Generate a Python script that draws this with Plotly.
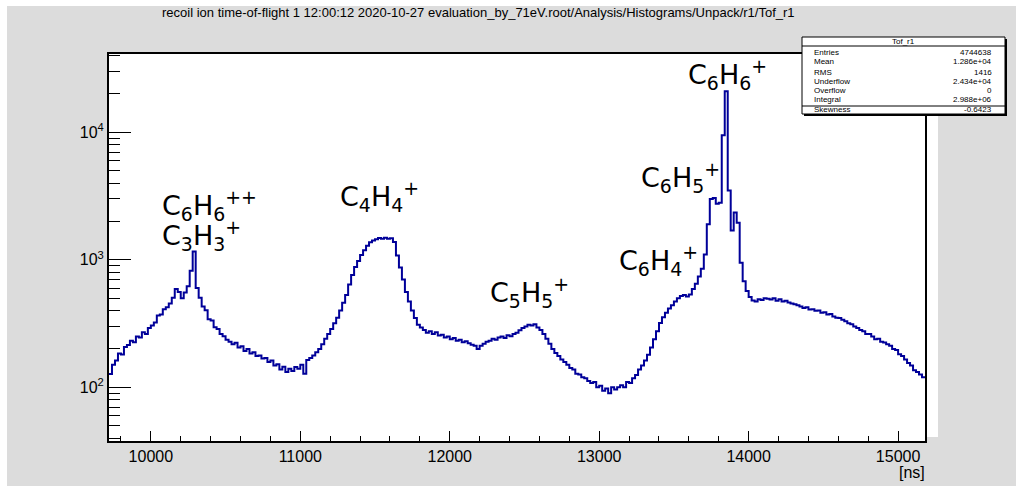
import numpy as np
import plotly.graph_objects as go

# Tof_r1 histogram: 20 ns bins starting at 9720 ns
bin_start = 9720
bin_width = 20
counts = [
    127, 150, 162, 184, 181, 207, 215, 232, 226, 250,
    246, 270, 262, 292, 305, 322, 366, 372, 410, 425,
    455, 505, 590, 560, 500, 555, 620, 820, 1160, 600,
    505, 430, 402, 342, 334, 296, 287, 262, 252, 236,
    228, 218, 224, 205, 210, 193, 200, 184, 188, 176,
    178, 168, 170, 158, 162, 148, 152, 138, 145, 132,
    140, 134, 144, 140, 150, 128, 164, 170, 178, 188,
    200, 218, 240, 262, 286, 318, 352, 400, 460, 530,
    640, 760, 880, 980, 1090, 1190, 1290, 1370, 1420, 1450,
    1480, 1465, 1490, 1460, 1475, 1380, 1080, 870, 700, 560,
    470, 400, 350, 310, 295, 282, 268, 275, 262, 270,
    255, 258, 246, 250, 238, 244, 232, 236, 226, 230,
    222, 216, 212, 200, 212, 220, 228, 232, 240, 236,
    246, 250, 244, 256, 252, 262, 268, 280, 292, 300,
    310, 305, 312, 295, 282, 262, 240, 220, 200, 186,
    176, 165, 158, 150, 142, 138, 128, 126, 120, 118,
    112, 108, 110, 100, 103, 94, 98, 90, 100, 96,
    100, 104, 100, 110, 108, 118, 125, 138, 148, 162,
    180, 205, 238, 275, 320, 355, 385, 415, 440, 470,
    500, 520, 530, 515, 535, 590, 650, 740, 850, 1100,
    1900, 3000, 3050, 2750, 2800, 9500, 21000, 3500, 1700, 2350,
    1950, 950, 680, 570, 510, 480, 470, 490, 485, 500,
    495, 488, 500, 478, 490, 470, 478, 462, 455, 448,
    440, 430, 418, 425, 408, 410, 398, 400, 385, 388,
    372, 375, 360, 352, 350, 338, 330, 318, 312, 300,
    292, 282, 275, 262, 262, 250, 238, 240, 228, 225,
    218, 212, 200, 196, 182, 176, 165, 155, 148, 136,
    132, 126, 120,
]

title_text = ("recoil ion time-of-flight 1 12:00:12 2020-10-27 "
              "evaluation_by_71eV.root/Analysis/Histograms/Unpack/r1/Tof_r1")

stats_name = "Tof_r1"
stats_labels = ["Entries", "Mean", "RMS", "Underflow", "Overflow", "Integral", "Skewness"]
stats_values = ["4744638", "1.286e+04", "1416", "2.434e+04", "0", "2.988e+06", "-0.6423"]

# peak labels: (text, x [ns], log10 y)
peak_labels = [
    ("C<sub>6</sub>H<sub>6</sub><sup>++</sup>", 10062, 3.422),
    ("C<sub>3</sub>H<sub>3</sub><sup>+</sup>", 10062, 3.187),
    ("C<sub>4</sub>H<sub>4</sub><sup>+</sup>", 11250, 3.493),
    ("C<sub>5</sub>H<sub>5</sub><sup>+</sup>", 12255, 2.740),
    ("C<sub>6</sub>H<sub>4</sub><sup>+</sup>", 13118, 2.998),
    ("C<sub>6</sub>H<sub>5</sub><sup>+</sup>", 13264, 3.642),
    ("C<sub>6</sub>H<sub>6</sub><sup>+</sup>", 13578, 4.457),
]

# step outline through bin edges
counts_arr = np.array(counts, dtype=float)
edges = bin_start + bin_width * np.arange(len(counts_arr) + 1)
step_y = np.append(counts_arr, counts_arr[-1])

W, H = 1016, 486
L, R, T, B = 109, 925, 54, 441


def px(x):
    return (x - L) / (R - L)


def py(y):
    return (B - y) / (B - T)


fig = go.Figure()
fig.add_trace(go.Scatter(
    x=edges, y=step_y, mode="lines", line_shape="hv",
    line=dict(color="#000099", width=2), hoverinfo="skip", showlegend=False,
))

axis_font = dict(family="Liberation Sans, Arial, sans-serif", size=16, color="black")

minor_y = [m * 10 ** e for e in range(1, 5) for m in range(2, 10) if 38 <= m * 10 ** e <= 41000]

fig.update_xaxes(
    range=[edges[0], edges[-1]], showgrid=False, zeroline=False,
    showline=True, linecolor="black", linewidth=2, mirror=True,
    ticks="inside", ticklen=10, tickwidth=1, tickcolor="black",
    dtick=1000, tickformat="d", tickfont=axis_font,
    minor=dict(ticks="inside", ticklen=5, tickwidth=1, tickcolor="black", dtick=200),
)
fig.update_yaxes(
    type="log", range=[1.579, 4.614], showgrid=False, zeroline=False,
    showline=True, linecolor="black", linewidth=2, mirror=True,
    ticks="inside", ticklen=22, tickwidth=1, tickcolor="black",
    tickvals=[100, 1000, 10000],
    ticktext=["10<sup>2</sup>", "10<sup>3</sup>", "10<sup>4</sup>"],
    tickfont=axis_font,
    minor=dict(ticks="inside", ticklen=11, tickwidth=1, tickcolor="black", tickvals=minor_y),
)

shapes = [
    # white canvas border strips
    dict(type="rect", xref="paper", yref="paper", x0=px(0), x1=px(W), y0=py(0), y1=py(6),
         fillcolor="white", line_width=0, layer="below"),
    dict(type="rect", xref="paper", yref="paper", x0=px(0), x1=px(7), y0=py(0), y1=py(H),
         fillcolor="white", line_width=0, layer="below"),
    dict(type="rect", xref="paper", yref="paper", x0=px(926), x1=px(938), y0=py(54), y1=py(437),
         fillcolor="white", line_width=0, layer="below"),
    # stats box with shadow
    dict(type="rect", xref="paper", yref="paper", x0=px(804), x1=px(1007), y0=py(39), y1=py(116),
         fillcolor="black", line_width=0, layer="above"),
    dict(type="rect", xref="paper", yref="paper", x0=px(802), x1=px(1005), y0=py(37), y1=py(114),
         fillcolor="white", line=dict(color="black", width=1), layer="above"),
    dict(type="line", xref="paper", yref="paper", x0=px(802), x1=px(1005), y0=py(46), y1=py(46),
         line=dict(color="black", width=1), layer="above"),
    dict(type="line", xref="paper", yref="paper", x0=px(802), x1=px(1005), y0=py(106), y1=py(106),
         line=dict(color="black", width=1), layer="above"),
]

annotations = [
    dict(text=title_text, xref="paper", yref="paper", x=px(478), y=py(12),
         xanchor="center", yanchor="middle", showarrow=False,
         font=dict(family="Liberation Sans, Arial, sans-serif", size=13, color="black")),
    dict(text="[ns]", xref="paper", yref="paper", x=px(927), y=py(472),
         xanchor="right", yanchor="middle", showarrow=False, font=axis_font),
    dict(text=stats_name, xref="paper", yref="paper", x=px(903), y=py(41.5),
         xanchor="center", yanchor="middle", showarrow=False,
         font=dict(family="Liberation Sans, Arial, sans-serif", size=8, color="black")),
]

stats_rows_y = [52.3, 62, 72.3, 81, 90.3, 99.7, 110]
stats_font = dict(family="Liberation Sans, Arial, sans-serif", size=8, color="black")
for lab, val, yy in zip(stats_labels, stats_values, stats_rows_y):
    annotations.append(dict(text=lab, xref="paper", yref="paper", x=px(812), y=py(yy),
                            xanchor="left", yanchor="middle", showarrow=False, font=stats_font))
    annotations.append(dict(text=val, xref="paper", yref="paper", x=px(994), y=py(yy),
                            xanchor="right", yanchor="middle", showarrow=False, font=stats_font))

label_font = dict(family="DejaVu Sans, sans-serif", size=27, color="black")
for txt, xv, ylog in peak_labels:
    annotations.append(dict(text=txt, x=xv, y=ylog, xref="x", yref="y",
                            xanchor="left", yanchor="middle", showarrow=False, font=label_font))

fig.update_layout(
    width=W, height=H, autosize=False,
    margin=dict(l=L, r=W - R, t=T, b=H - B, pad=0),
    paper_bgcolor="#dcdcdc", plot_bgcolor="white",
    shapes=shapes, annotations=annotations,
)

fig.write_html("out.html")
